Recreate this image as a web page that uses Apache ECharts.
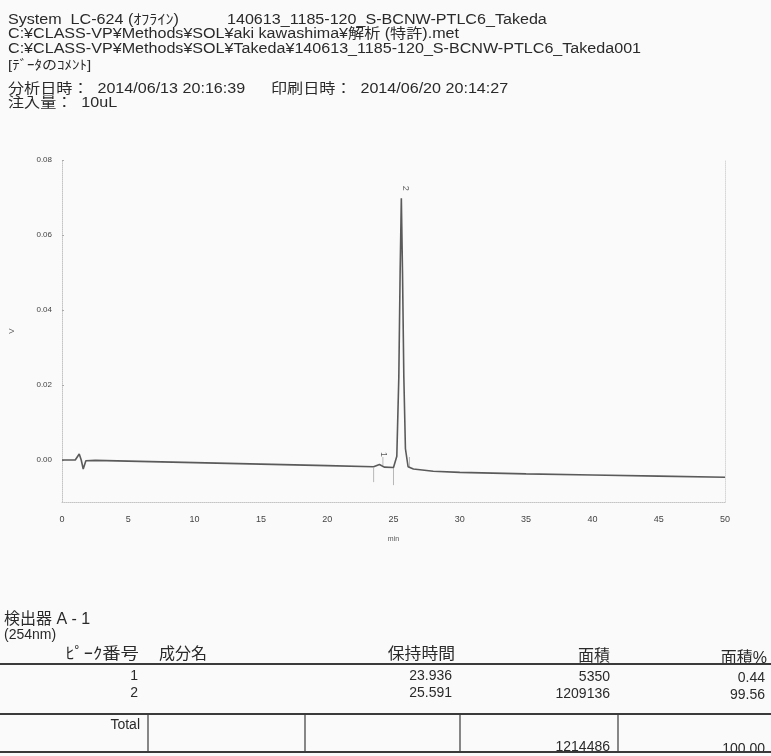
<!DOCTYPE html>
<html>
<head>
<meta charset="utf-8">
<script src="https://cdn.jsdelivr.net/npm/echarts@6/dist/echarts.min.js"></script>
<style>
  html, body { margin: 0; padding: 0; background: #fafafa; }
  #chart { width: 771px; height: 756px; }
</style>
</head>
<body>
<div id="chart"></div>
<script>
// Chromatogram trace: retention time (min) and detector signal (V)
const traceTime = [0, 1.0, 1.3, 1.45, 1.6, 1.8, 2.5, 5, 10, 15, 20, 23.5, 23.94, 24.3, 25.0,
  25.25, 25.4, 25.5, 25.591, 25.68, 25.78, 25.9, 26.1, 26.5, 28, 30, 35, 40, 45, 50];
const traceVolt = [0.0, 0.0, 0.0016, 0.0, -0.0024, -0.0002, -0.0001, -0.0003, -0.0007, -0.0011, -0.0015, -0.0018, -0.0012, -0.0019, -0.0020,
  0.001, 0.022, 0.050, 0.0698, 0.050, 0.022, 0.003, -0.0018, -0.0024, -0.0030, -0.0033, -0.0037, -0.0040, -0.0043, -0.0046];

// Peak table
const peakNo = [1, 2];
const retentionTimes = ['23.936', '25.591'];
const peakHeights = [-0.0012, 0.0698];
const areas = ['5350', '1209136'];
const areaPct = ['0.44', '99.56'];
const totalArea = '1214486';
const totalPct = '100.00';

// Integration event marks: time, from, to (V)
const eventTime = [23.5, 24.2, 25.0, 26.2];
const eventFrom = [-0.0021, 0.0008, -0.0021, 0.0008];
const eventTo = [-0.0059, -0.0019, -0.0067, -0.0021];

// Axis tick labels
const yTicks = [0, 0.02, 0.04, 0.06, 0.08];

// Header lines
const headerLines = [
  { text: 'System  LC-624 (ｵﾌﾗｲﾝ)', x: 8, y: 20 },
  { text: '140613_1185-120_S-BCNW-PTLC6_Takeda', x: 227, y: 20 },
  { text: 'C:¥CLASS-VP¥Methods¥SOL¥aki kawashima¥解析 (特許).met', x: 8, y: 34 },
  { text: 'C:¥CLASS-VP¥Methods¥SOL¥Takeda¥140613_1185-120_S-BCNW-PTLC6_Takeda001', x: 8, y: 49 },
  { text: '[ﾃﾞｰﾀのｺﾒﾝﾄ]', x: 8, y: 65, size: 13 },
  { text: '分析日時：  2014/06/13 20:16:39', x: 8, y: 89 },
  { text: '印刷日時：  2014/06/20 20:14:27', x: 271, y: 89 },
  { text: '注入量：  10uL', x: 8, y: 103 }
];

const FONT = '"Liberation Sans", "Noto Sans CJK JP", sans-serif';
const INK = '#2a2a2a';

const chart = echarts.init(document.getElementById('chart'), null, { renderer: 'canvas' });

const graphics = [];
headerLines.forEach(function (h) {
  graphics.push({
    type: 'text', x: h.x, y: h.y, scaleX: 1.15, originX: 0,
    style: { text: h.text, font: (h.size || 14) + 'px ' + FONT, fill: INK, verticalAlign: 'middle' }
  });
});

// Detector block and result table
function txt(text, x, y, align, size, sx) {
  graphics.push({ type: 'text', x: x, y: y, scaleX: sx || 1, originX: 0,
    style: { text: text, font: (size || 14) + 'px ' + FONT, fill: INK, align: align || 'left', verticalAlign: 'middle' } });
}
function hline(y, x1, x2, w) {
  graphics.push({ type: 'line', shape: { x1: x1, y1: y, x2: x2, y2: y }, style: { stroke: '#3a3a3a', lineWidth: w || 1.5 } });
}
function vline(x, y1, y2) {
  graphics.push({ type: 'line', shape: { x1: x, y1: y1, x2: x, y2: y2 }, style: { stroke: '#3a3a3a', lineWidth: 1.2 } });
}

txt('検出器 A - 1', 4, 620, 'left', 16);
txt('(254nm)', 4, 635, 'left', 14);
txt('ﾋﾟｰｸ番号', 139, 655, 'right', 16, 1.15);
txt('成分名', 159, 655, 'left', 16);
txt('保持時間', 455, 655, 'right', 16, 1.05);
txt('面積', 610, 657, 'right', 16);
txt('面積%', 767, 659, 'right', 16);
hline(664, 0, 771, 1.8);
peakNo.forEach(function (n, i) {
  const y = 676 + i * 17;
  txt(String(n), 138, y, 'right');
  txt(retentionTimes[i], 452, y, 'right');
  txt(areas[i], 610, y + 1, 'right');
  txt(areaPct[i], 765, y + 2, 'right');
});
hline(714, 0, 771, 1.8);
txt('Total', 140, 725, 'right');
txt(totalArea, 610, 747, 'right');
txt(totalPct, 765, 749, 'right');
[148, 305, 460, 618].forEach(function (x) { vline(x, 714, 752); });
hline(752, 0, 771, 1.8);

const option = {
  backgroundColor: '#fafafa',
  animation: false,
  grid: { left: 60, right: 46, top: 160, bottom: 254 },
  xAxis: {
    type: 'value', min: 0, max: 50, interval: 5,
    axisLine: { show: true, onZero: false, lineStyle: { color: '#c4c4c4', type: 'dotted', width: 1 } },
    axisTick: { show: false },
    splitLine: { show: false },
    axisLabel: { color: '#444', fontSize: 9, margin: 13, fontFamily: FONT },
    name: 'min', nameLocation: 'middle', nameGap: 34,
    nameTextStyle: { color: '#555', fontSize: 7, fontFamily: FONT }
  },
  yAxis: [{
    type: 'value', min: -0.0112, max: 0.08,
    axisLine: { show: true, onZero: false, lineStyle: { color: '#c4c4c4', type: 'dotted', width: 1 } },
    axisTick: { show: true, customValues: yTicks, length: 2, inside: true, lineStyle: { color: '#aaa' } },
    splitLine: { show: false },
    axisLabel: { customValues: yTicks, color: '#444', fontSize: 8, margin: 10, fontFamily: FONT,
      formatter: function (v) { return v.toFixed(2); } },
    name: 'V', nameLocation: 'middle', nameRotate: 90, nameGap: 46,
    nameTextStyle: { color: '#555', fontSize: 8, fontFamily: FONT }
  }, {
    type: 'value', min: -0.0112, max: 0.08, position: 'right',
    axisLine: { show: true, onZero: false, lineStyle: { color: '#d6d6d6', type: 'dotted', width: 1 } },
    axisTick: { show: false }, axisLabel: { show: false }, splitLine: { show: false }
  }],
  series: [{
    type: 'line',
    data: traceTime.map(function (t, i) { return [t, traceVolt[i]]; }),
    showSymbol: false,
    lineStyle: { color: '#5a5a5a', width: 1.6 },
    z: 3
  }, {
    type: 'custom',
    renderItem: function (params, api) {
      const p1 = api.coord([api.value(0), api.value(1)]);
      const p2 = api.coord([api.value(0), api.value(2)]);
      return { type: 'line', shape: { x1: p1[0], y1: p1[1], x2: p2[0], y2: p2[1] },
        style: { stroke: '#b8b8b8', lineWidth: 1 } };
    },
    data: eventTime.map(function (t, i) { return [t, eventFrom[i], eventTo[i]]; }),
    z: 2
  }, {
    type: 'scatter',
    data: retentionTimes.map(function (t, i) { return [Number(t), peakHeights[i]]; }),
    symbolSize: 0,
    label: { show: true, position: 'top', distance: 10, rotate: -90, color: '#333', fontSize: 9,
      fontFamily: FONT, formatter: function (p) { return String(peakNo[p.dataIndex]); } },
    z: 4
  }],
  graphic: graphics
};

chart.setOption(option);
</script>
</body>
</html>
